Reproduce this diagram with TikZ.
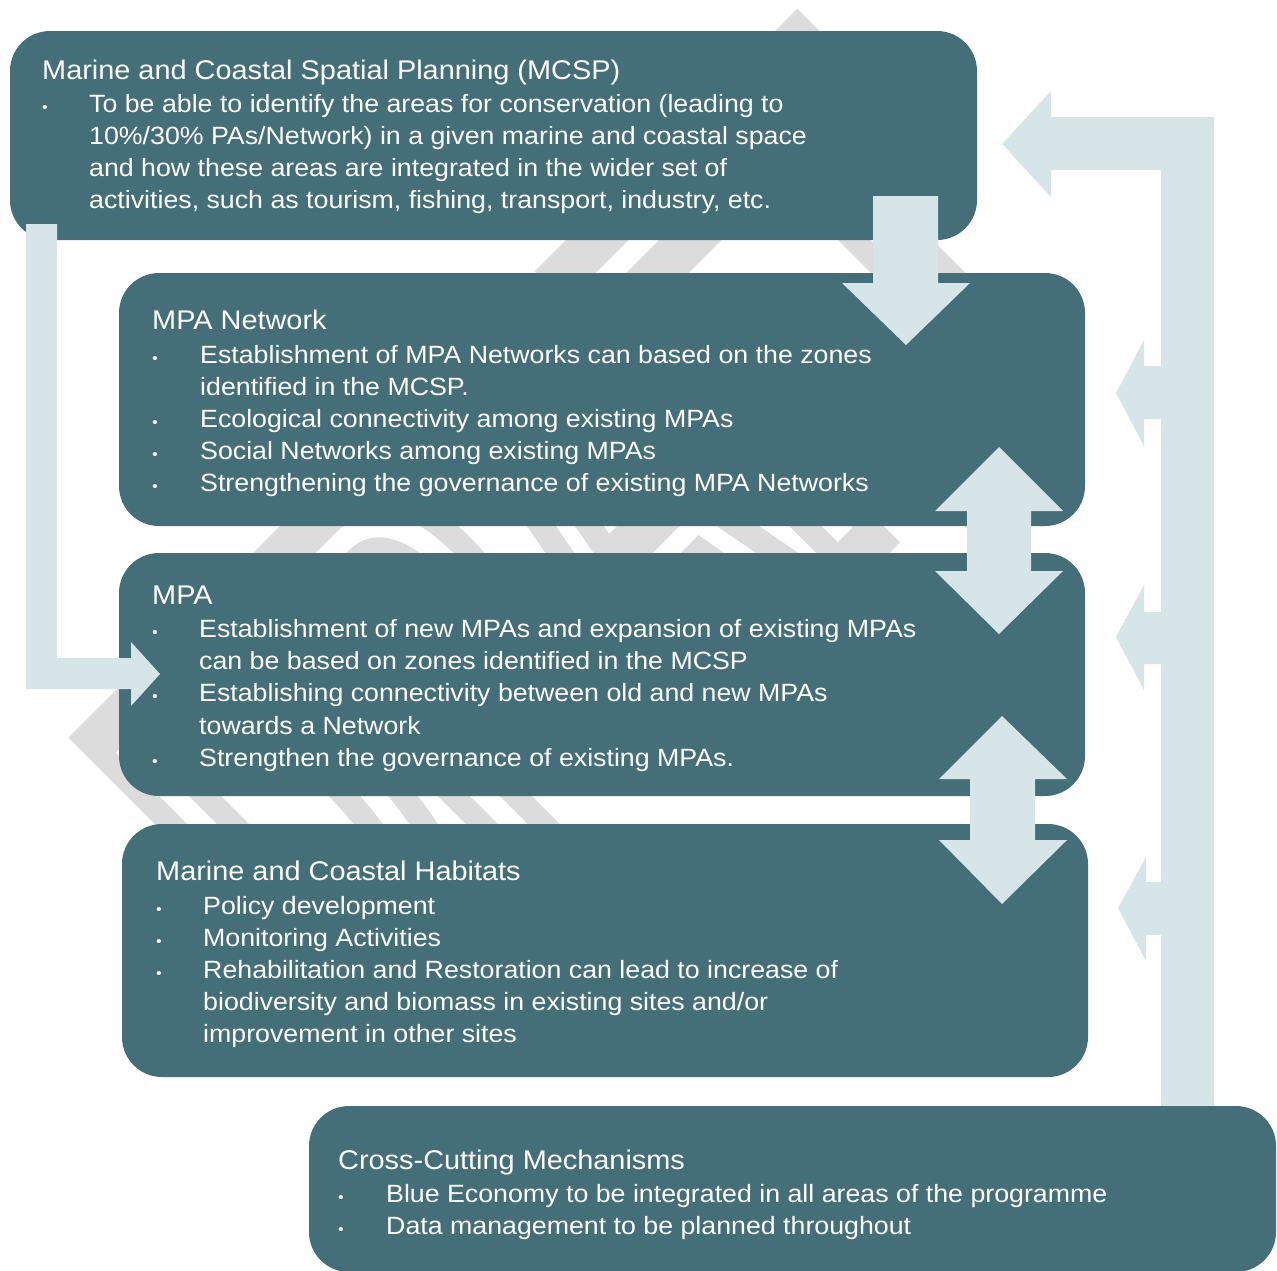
\documentclass[tikz,border=0pt]{standalone}
\usepackage{fontspec}
\setmainfont{Liberation Sans}[FakeStretch=1.07]
\newfontfamily\wmfont{Liberation Sans}[BoldFont={Liberation Sans Bold}]
\definecolor{boxc}{HTML}{446F78}
\definecolor{arrc}{HTML}{D6E5E8}
\definecolor{wmc}{HTML}{DCDCDC}
\tikzset{
  box/.style={fill=boxc, rounded corners=40pt, inner sep=0pt, draw=none},
  blk/.style={fill=arrc, draw=none},
  ttl/.style={anchor=base west, inner sep=0pt, text=white, font=\fontsize{27}{30}\selectfont},
  itm/.style={anchor=base west, inner sep=0pt, text=white, font=\fontsize{25}{28}\selectfont},
  bul/.style={anchor=base west, inner sep=0pt, text=white, font=\fontsize{15}{16}\selectfont},
}
\begin{document}
\begin{tikzpicture}[x=1pt,y=-1pt]
\useasboundingbox (0,0) rectangle (1277,1270);
% watermark
\node[rotate=45, xscale=0.516, inner sep=0pt, text=wmc, font=\wmfont\bfseries\fontsize{590}{590}\selectfont] (wm) at (586,538.4)
  {\special{pdf:literal direct 1 Tr 44 w}DRAFT\special{pdf:literal direct 0 Tr 1 w}};
% return arrow on the right
\fill[blk] (1214,1106) -- (1214,117) -- (1051,117) -- (1051,91) -- (1002,144) -- (1051,197) -- (1051,170) -- (1161,170) -- (1161,1106) -- cycle;
\fill[blk] (1165,366) -- (1144,366) -- (1144,340) -- (1116,393) -- (1144,446) -- (1144,419) -- (1165,419) -- cycle;
\fill[blk] (1165,612) -- (1144,612) -- (1144,585) -- (1116,637) -- (1144,690) -- (1144,664) -- (1165,664) -- cycle;
\fill[blk] (1165,882) -- (1146,882) -- (1146,857) -- (1118,908) -- (1146,961) -- (1146,935) -- (1165,935) -- cycle;
% boxes
\node[box, minimum width=967pt, minimum height=209pt] (b1) at (493.5,135.5) {};
\node[box, minimum width=966pt, minimum height=253pt] (b2) at (602,399.5) {};
\node[box, minimum width=966pt, minimum height=243pt] (b3) at (602,674.5) {};
\node[box, minimum width=966pt, minimum height=253pt] (b4) at (605,950.5) {};
\node[box, minimum width=967pt, minimum height=166pt] (b5) at (792.5,1189) {};
% arrows over boxes
\fill[blk] (873,196) -- (938,196) -- (938,283) -- (970,283) -- (906,345) -- (842,283) -- (873,283) -- cycle;
\fill[blk] (26,224) -- (57,224) -- (57,658) -- (131,658) -- (131,642) -- (160,674) -- (131,706) -- (131,689) -- (26,689) -- cycle;
\fill[blk] (999,447) -- (1063,511) -- (1031,511) -- (1031,571) -- (1063,571) -- (999,634) -- (935,571) -- (967,571) -- (967,511) -- (935,511) -- cycle;
\fill[blk] (1002,716) -- (1067,779) -- (1035,779) -- (1035,840) -- (1067,840) -- (1002,904) -- (939,840) -- (970,840) -- (970,779) -- (939,779) -- cycle;
% box 1 text
\node[ttl] (t1) at (42,79) {Marine and Coastal Spatial Planning (MCSP)};
\node[bul] (t1b1) at (42,112) {•};
\node[itm] (t1l1) at (89,112) {To be able to identify the areas for conservation (leading to};
\node[itm] (t1l2) at (89,144) {10\%/30\% PAs/Network) in a given marine and coastal space};
\node[itm] (t1l3) at (89,176) {and how these areas are integrated in the wider set of};
\node[itm] (t1l4) at (89,208) {activities, such as tourism, fishing, transport, industry, etc.};
% box 2 text
\node[ttl] (t2) at (152,329) {MPA Network};
\node[bul] (t2b1) at (152,363) {•};
\node[itm] (t2l1) at (200,363) {Establishment of MPA Networks can based on the zones};
\node[itm] (t2l2) at (200,395) {identified in the MCSP.};
\node[bul] (t2b2) at (152,427) {•};
\node[itm] (t2l3) at (200,427) {Ecological connectivity among existing MPAs};
\node[bul] (t2b3) at (152,459) {•};
\node[itm] (t2l4) at (200,459) {Social Networks among existing MPAs};
\node[bul] (t2b4) at (152,491) {•};
\node[itm] (t2l5) at (200,491) {Strengthening the governance of existing MPA Networks};
% box 3 text
\node[ttl] (t3) at (152,604) {MPA};
\node[bul] (t3b1) at (152,637) {•};
\node[itm] (t3l1) at (199,637) {Establishment of new MPAs and expansion of existing MPAs};
\node[itm] (t3l2) at (199,669) {can be based on zones identified in the MCSP};
\node[bul] (t3b2) at (152,701) {•};
\node[itm] (t3l3) at (199,701) {Establishing connectivity between old and new MPAs};
\node[itm] (t3l4) at (199,734) {towards a Network};
\node[bul] (t3b3) at (152,766) {•};
\node[itm] (t3l5) at (199,766) {Strengthen the governance of existing MPAs.};
% box 4 text
\node[ttl] (t4) at (156,880) {Marine and Coastal Habitats};
\node[bul] (t4b1) at (156,914) {•};
\node[itm] (t4l1) at (203,914) {Policy development};
\node[bul] (t4b2) at (156,946) {•};
\node[itm] (t4l2) at (203,946) {Monitoring Activities};
\node[bul] (t4b3) at (156,978) {•};
\node[itm] (t4l3) at (203,978) {Rehabilitation and Restoration can lead to increase of};
\node[itm] (t4l4) at (203,1010) {biodiversity and biomass in existing sites and/or};
\node[itm] (t4l5) at (203,1042) {improvement in other sites};
% box 5 text
\node[ttl] (t5) at (338,1169) {Cross-Cutting Mechanisms};
\node[bul] (t5b1) at (338,1202) {•};
\node[itm] (t5l1) at (386,1202) {Blue Economy to be integrated in all areas of the programme};
\node[bul] (t5b2) at (338,1234) {•};
\node[itm] (t5l2) at (386,1234) {Data management to be planned throughout};
\end{tikzpicture}
\end{document}
